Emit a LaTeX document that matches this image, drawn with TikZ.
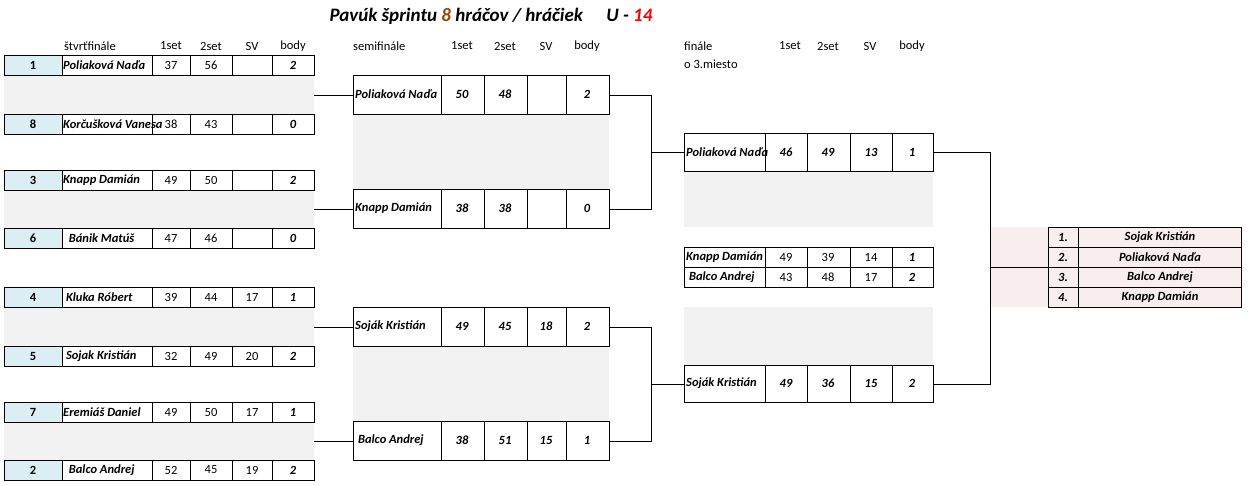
\documentclass[tikz,border=0pt]{standalone}
\usepackage{fontspec}
\setmainfont{Carlito}
\usetikzlibrary{positioning}
\definecolor{seedblue}{HTML}{DAEEF3}
\definecolor{cellgray}{HTML}{F2F2F2}
\definecolor{cellpink}{HTML}{F9EEEE}
\definecolor{titlebrown}{HTML}{984807}
\tikzset{
  txt/.style={font=\fontsize{12.5}{14}\selectfont, inner sep=0pt},
  bi/.style={txt, font=\fontsize{12.5}{14}\selectfont\bfseries\itshape},
  wire/.style={black, line width=0.7pt}
}
% quarterfinal row: top y, seed, name, 1set, 2set, SV, body
\newcommand\qfrow[7]{%
  \fill[seedblue] (4,#1) rectangle (62,#1+20);
  \draw (4,#1) rectangle (314,#1+20);
  \foreach \xx in {62,152,190,232,272} \draw (\xx,#1) -- (\xx,#1+20);
  \node[bi, font=\fontsize{12.5}{14}\selectfont\bfseries] at (33,#1+10) {#2};
  \node[bi, anchor=west] at (63,#1+10) {#3};
  \node[txt] at (171,#1+10) {#4};
  \node[txt] at (211,#1+10) {#5};
  \node[txt] at (252,#1+10) {#6};
  \node[bi] at (293,#1+10) {#7};
}
% semifinal row: top y, name, 1set, 2set, SV, body
\newcommand\sfrow[6]{%
  \draw (353,#1) rectangle (609,#1+39);
  \foreach \xx in {441,484,527,566} \draw (\xx,#1) -- (\xx,#1+39);
  \node[bi, anchor=west] at (355,#1+19.5) {#2};
  \node[bi] at (462,#1+19.5) {#3};
  \node[bi] at (505,#1+19.5) {#4};
  \node[bi] at (546,#1+19.5) {#5};
  \node[bi] at (587,#1+19.5) {#6};
}
% final row: top y, height, name, 1set, 2set, SV, body, number style
\newcommand\finrow[8]{%
  \draw (684,#1) rectangle (933,#1+#2);
  \foreach \xx in {765,807,850,892} \draw (\xx,#1) -- (\xx,#1+#2);
  \node[bi, anchor=west] at (686,#1+#2/2) {#3};
  \node[#8] at (786,#1+#2/2) {#4};
  \node[#8] at (828,#1+#2/2) {#5};
  \node[#8] at (871,#1+#2/2) {#6};
  \node[bi] at (912,#1+#2/2) {#7};
}
\begin{document}
\begin{tikzpicture}[x=1pt, y=-1pt]
  \useasboundingbox (0,0) rectangle (1248,485);

  % title
  \node[bi, font=\fontsize{19}{22}\selectfont\bfseries\itshape] (title) at (491,16)
    {Pavúk šprintu \textcolor{titlebrown}{8} hráčov / hráčiek \quad U - \textcolor{red}{14}};

  % headers
  \foreach \lbl/\xx in {1set/171, 2set/211, SV/252, body/293,
                        1set/462, 2set/505, SV/546, body/587,
                        1set/790, 2set/828, SV/870, body/912}
    \node[txt] at (\xx,46) {\lbl};
  \node[txt] at (90,46) {štvrťfinále};
  \node[txt, anchor=west] at (353,46) {semifinále};
  \node[txt, anchor=west] at (684,46) {finále};
  \node[txt, anchor=west] at (684,64) {o 3.miesto};

  % gray spacers
  \foreach \ya/\yb in {75/114, 190/228, 307/346, 422/460}
    \fill[cellgray] (4,\ya) rectangle (314,\yb);
  \foreach \ya/\yb in {114/189, 346/421}
    \fill[cellgray] (353,\ya) rectangle (609,\yb);
  \foreach \ya/\yb in {171/227, 307/365}
    \fill[cellgray] (684,\ya) rectangle (933,\yb);
  \fill[cellpink] (990,227) rectangle (1241,307);

  % quarterfinals
  \qfrow{55}{1}{Poliaková Naďa}{37}{56}{}{2}
  \qfrow{114}{8}{Korčušková Vanesa}{38}{43}{}{0}
  \qfrow{170}{3}{Knapp Damián}{49}{50}{}{2}
  \qfrow{228}{6}{\ \ Bánik Matúš}{47}{46}{}{0}
  \qfrow{287}{4}{\ Kluka Róbert}{39}{44}{17}{1}
  \qfrow{346}{5}{\ Sojak Kristián}{32}{49}{20}{2}
  \qfrow{402}{7}{Eremiáš Daniel}{49}{50}{17}{1}
  \qfrow{460}{2}{\ \ Balco Andrej}{52}{45}{19}{2}

  % semifinals
  \sfrow{75}{Poliaková Naďa}{50}{48}{}{2}
  \sfrow{189}{Knapp Damián}{38}{38}{}{0}
  \sfrow{307}{Soják Kristián}{49}{45}{18}{2}
  \sfrow{421}{\ Balco Andrej}{38}{51}{15}{1}

  % final and 3rd place
  \finrow{133}{38}{Poliaková Naďa}{46}{49}{13}{1}{bi}
  \finrow{247}{20}{Knapp Damián}{49}{39}{14}{1}{txt}
  \finrow{267}{20}{\ Balco Andrej}{43}{48}{17}{2}{txt}
  \finrow{365}{37}{Soják Kristián}{49}{36}{15}{2}{bi}

  % results
  \foreach \r/\nm [count=\i from 0] in {1./Sojak Kristián, 2./Poliaková Naďa,
                                         3./Balco Andrej, 4./Knapp Damián} {
    \draw (1048,227+20*\i) rectangle (1241,247+20*\i);
    \draw (1078,227+20*\i) -- (1078,247+20*\i);
    \node[bi] at (1063,237+20*\i) {\r};
    \node[bi] at (1160,237+20*\i) {\nm};
  }

  % connectors
  \foreach \ym in {95, 209, 327, 441}
    \draw[wire] (314,\ym) -- (353,\ym);
  \coordinate (s1) at (609,95);  \coordinate (s2) at (609,209);
  \coordinate (s3) at (609,327); \coordinate (s4) at (609,441);
  \draw[wire] (s1) -| (651,209) -- (s2);
  \draw[wire] (651,152) -- (684,152);
  \draw[wire] (s3) -| (651,441) -- (s4);
  \draw[wire] (651,384) -- (684,384);
  \coordinate (f1) at (933,152); \coordinate (f2) at (933,384);
  \draw[wire] (f1) -| (990,384) -- (f2);
  \draw[wire] (990,267) -- (1048,267);
\end{tikzpicture}
\end{document}
